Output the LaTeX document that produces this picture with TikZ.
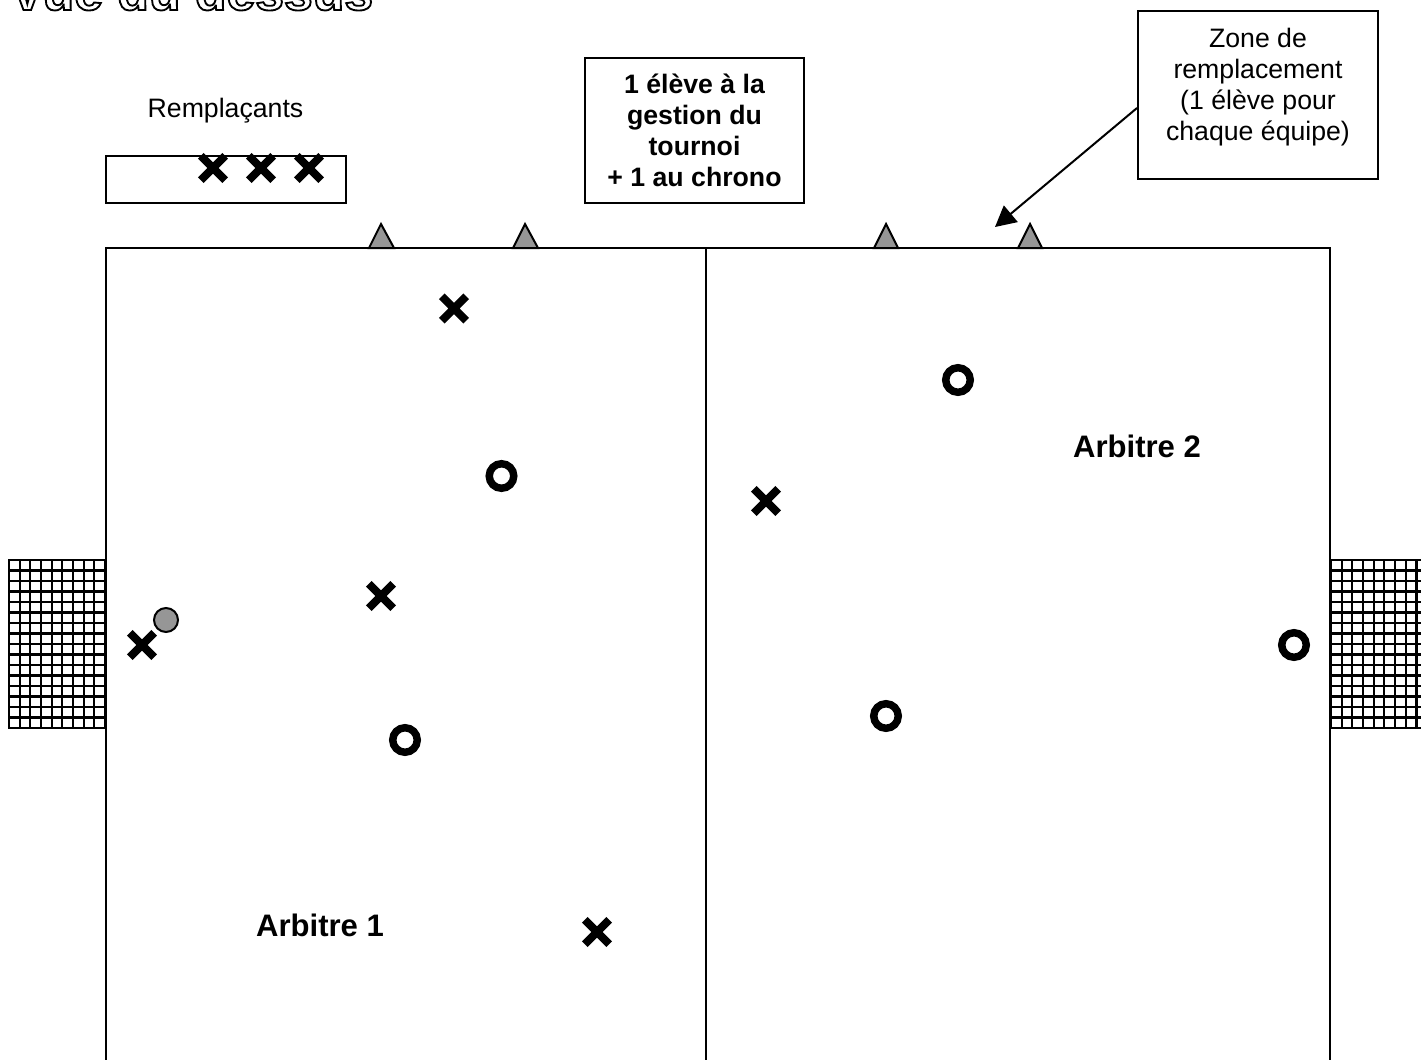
\documentclass[tikz,border=0pt]{standalone}
\usepackage{fontspec}
\setmainfont{Liberation Sans}
\usetikzlibrary{shapes.misc,arrows.meta}

\tikzset{every picture/.style={line width=1.5pt}}
\tikzset{
  playerx/.style={cross out,draw=black,line width=6pt,minimum size=18.3pt,inner sep=0pt,outer sep=0pt},
  playero/.style={circle,draw=black,line width=5.6pt,minimum size=18.4pt,inner sep=0pt,fill=white},
  ballnode/.style={circle,draw=black,line width=1.5pt,fill={rgb, 255:red, 150; green, 150; blue, 150},minimum size=18pt,inner sep=0pt},
  textbox/.style={draw=black,line width=1.5pt,align=center,font=\fontsize{20}{23.2}\selectfont,inner sep=0pt},
  labeltext/.style={align=center,font=\fontsize{20}{23.2}\selectfont},
  boldtext/.style={align=center,font=\fontsize{23.3}{27}\selectfont\bfseries},
  conemark/.style={draw=black,line width=1.5pt,fill={rgb, 255:red, 150; green, 150; blue, 150}},
  netgrid/.style={line width=1.7pt,xstep=10.67,ystep=10.5}
}

\begin{document}
\begin{tikzpicture}[x=0.75pt,y=0.75pt,yscale=-1,xscale=1]
        \useasboundingbox (0,0) rectangle (1421,1060);

        % Title
        \node [anchor=base west,inner sep=0pt,font=\fontsize{38.8}{40}\selectfont\bfseries] (title) at (9,10) {\special{pdf:code 1 Tr 1.4 w}Vue du dessus\special{pdf:code 0 Tr}};

        % Field
        \draw (106,1060) -- (106,248) -- (1330,248) -- (1330,1060);
        \draw (706,248) -- (706,1060);

        % Nets
        \begin{scope}[shift={(9,560)}]
        \draw [netgrid] (0,0) grid (96,168);
        \draw [line width=2pt] (0,0) rectangle (96,168);
        \end{scope}
        \begin{scope}[shift={(1331,560)}]
        \draw [netgrid] (0,0) grid (96,168);
        \draw [line width=2pt] (0,0) rectangle (96,168);
        \end{scope}

        % Cones
        \draw [conemark] (369,248) -- (381,224) -- (394,248) -- cycle;
        \draw [conemark] (513,248) -- (525,224) -- (538,248) -- cycle;
        \draw [conemark] (874,248) -- (886,224) -- (898,248) -- cycle;
        \draw [conemark] (1018,248) -- (1030,224) -- (1042,248) -- cycle;

        % Bench
        \node [labeltext] (benchlabel) at (225.5,111) {Remplaçants};
        \draw (105.5,155.5) rectangle (345.5,203);
        \node [playerx] (bench1) at (213,168) {};
        \node [playerx] (bench2) at (261,168) {};
        \node [playerx] (bench3) at (309,168) {};

        % Boxes
        \node [textbox,font=\fontsize{20}{23.2}\selectfont\bfseries,minimum width=164pt,minimum height=109pt] (gestion) at (694.5,130.5) {1 élève à la\\gestion du\\tournoi\\+ 1 au chrono};
        \node [textbox,minimum width=180pt,minimum height=126pt] (zone) at (1258,95) {};
        \node [labeltext] (zonetext) at (1258,87.5) {Zone de\\remplacement\\(1 élève pour\\chaque équipe)};
        \coordinate (zonetip) at (995,227);
        \draw [-{Triangle[length=15.5pt,width=16pt]},line width=1.5pt] ([yshift=9.75pt]zone.west) -- (zonetip);

        % Players
        \node [playerx] (x1) at (454,308.5) {};
        \node [playerx] (x2) at (381,596) {};
        \node [playerx] (x3) at (142,645) {};
        \node [playerx] (x4) at (597,932) {};
        \node [playerx] (x5) at (766,501) {};
        \node [playero] (o1) at (501.5,476) {};
        \node [playero] (o2) at (405,740) {};
        \node [playero] (o3) at (958,380) {};
        \node [playero] (o4) at (886,716) {};
        \node [playero] (o5) at (1294,645) {};
        \node [ballnode] (ball) at (166,620) {};

        % Referees
        \node [boldtext] (arbitre1) at (320,925) {Arbitre 1};
        \node [boldtext] (arbitre2) at (1137,446) {Arbitre 2};
\end{tikzpicture}
\end{document}
